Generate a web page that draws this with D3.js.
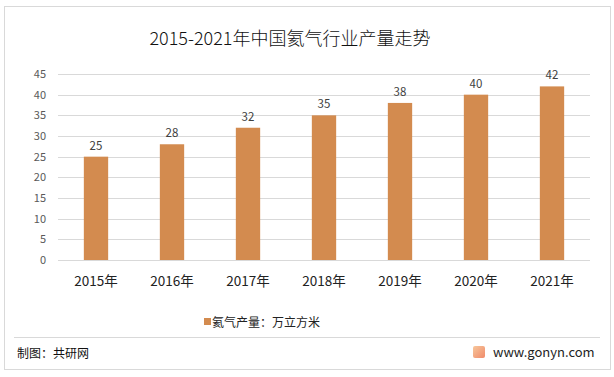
<!DOCTYPE html>
<html>
<head>
<meta charset="utf-8">
<script src="https://cdn.jsdelivr.net/npm/d3@7"></script>
<style>
  body { margin: 0; background: #fff; }
  text { font-family: "Microsoft YaHei", "Noto Sans CJK SC", sans-serif; }
</style>
</head>
<body>
<div id="container"></div>
<script>
/* DATA */
const years = ["2015年", "2016年", "2017年", "2018年", "2019年", "2020年", "2021年"]
const output = [25, 28, 32, 35, 38, 40, 42]
const yTicks = [0, 5, 10, 15, 20, 25, 30, 35, 40, 45]

/* CONSTANTS */
const width = 614, height = 377
const margin = { top: 74, bottom: 117, left: 58, right: 24 }
const barColor = "#D38B4F"

const svg = d3.select("#container")
  .append("svg")
  .attr("width", width)
  .attr("height", height)

// outer frame
svg.append("rect")
  .attr("x", 4.5).attr("y", 6.5)
  .attr("width", 606).attr("height", 363)
  .attr("fill", "none")
  .attr("stroke", "#d9d9d9")

svg.append("text")
  .text("2015-2021年中国氦气行业产量走势")
  .attr("x", 290).attr("y", 45)
  .attr("text-anchor", "middle")
  .attr("font-size", "18px")
  .attr("font-weight", 300)
  .attr("fill", "#111")

const xScale = d3.scaleBand()
  .domain(years)
  .range([margin.left, width - margin.right])
  .paddingInner(0.68)
  .paddingOuter(0.34)

const yScale = d3.scaleLinear()
  .domain([0, 45])
  .range([height - margin.bottom, margin.top])

// gridlines
svg.append("g")
  .selectAll("line")
  .data(yTicks)
  .join("line")
  .attr("x1", margin.left)
  .attr("x2", width - margin.right)
  .attr("y1", d => Math.round(yScale(d)) + 0.5)
  .attr("y2", d => Math.round(yScale(d)) + 0.5)
  .attr("stroke", "#d9d9d9")

const yAxis = d3.axisLeft(yScale).tickValues(yTicks).tickSize(0).tickPadding(0)
svg.append("g")
  .attr("transform", `translate(${margin.left - 12}, 0)`)
  .call(yAxis)
  .call(g => g.select(".domain").remove())
  .selectAll("text")
  .attr("font-size", "11px")
  .attr("fill", "#595959")

const xAxis = d3.axisBottom(xScale).tickSize(0).tickPadding(16)
svg.append("g")
  .attr("transform", `translate(0, ${height - margin.bottom})`)
  .call(xAxis)
  .call(g => g.select(".domain").remove())
  .selectAll("text")
  .attr("font-size", "13.5px")
  .attr("fill", "#222")

svg.selectAll("rect.bar")
  .data(output)
  .join("rect")
  .attr("class", "bar")
  .attr("x", (d, i) => xScale(years[i]))
  .attr("width", xScale.bandwidth())
  .attr("y", d => yScale(d))
  .attr("height", d => yScale(0) - yScale(d))
  .attr("fill", barColor)

svg.selectAll("text.label")
  .data(output)
  .join("text")
  .attr("class", "label")
  .attr("x", (d, i) => xScale(years[i]) + xScale.bandwidth() / 2)
  .attr("y", d => yScale(d) - 7)
  .attr("text-anchor", "middle")
  .attr("font-size", "11.5px")
  .attr("fill", "#404040")
  .text(d => d)

// legend
svg.append("rect")
  .attr("x", 204).attr("y", 318)
  .attr("width", 7).attr("height", 7)
  .attr("fill", barColor)
svg.append("text")
  .text("氦气产量：万立方米")
  .attr("x", 212).attr("y", 327)
  .attr("font-size", "12px")
  .attr("fill", "#222")

// footer
svg.append("line")
  .attr("x1", 14).attr("x2", 600)
  .attr("y1", 337.5).attr("y2", 337.5)
  .attr("stroke", "#d9d9d9")
svg.append("text")
  .text("制图：共研网")
  .attr("x", 17).attr("y", 358)
  .attr("font-size", "12px")
  .attr("fill", "#111")

const grad = svg.append("defs").append("linearGradient")
  .attr("id", "logo").attr("x1", 0).attr("y1", 0).attr("x2", 1).attr("y2", 1)
grad.append("stop").attr("offset", "0%").attr("stop-color", "#f7c79b")
grad.append("stop").attr("offset", "100%").attr("stop-color", "#f08a6a")
svg.append("rect")
  .attr("x", 473).attr("y", 346)
  .attr("width", 12).attr("height", 12)
  .attr("rx", 2)
  .attr("fill", "url(#logo)")
svg.append("text")
  .text("www.gonyn.com")
  .attr("x", 493).attr("y", 357)
  .attr("font-size", "13px")
  .attr("fill", "#222")
</script>
</body>
</html>
